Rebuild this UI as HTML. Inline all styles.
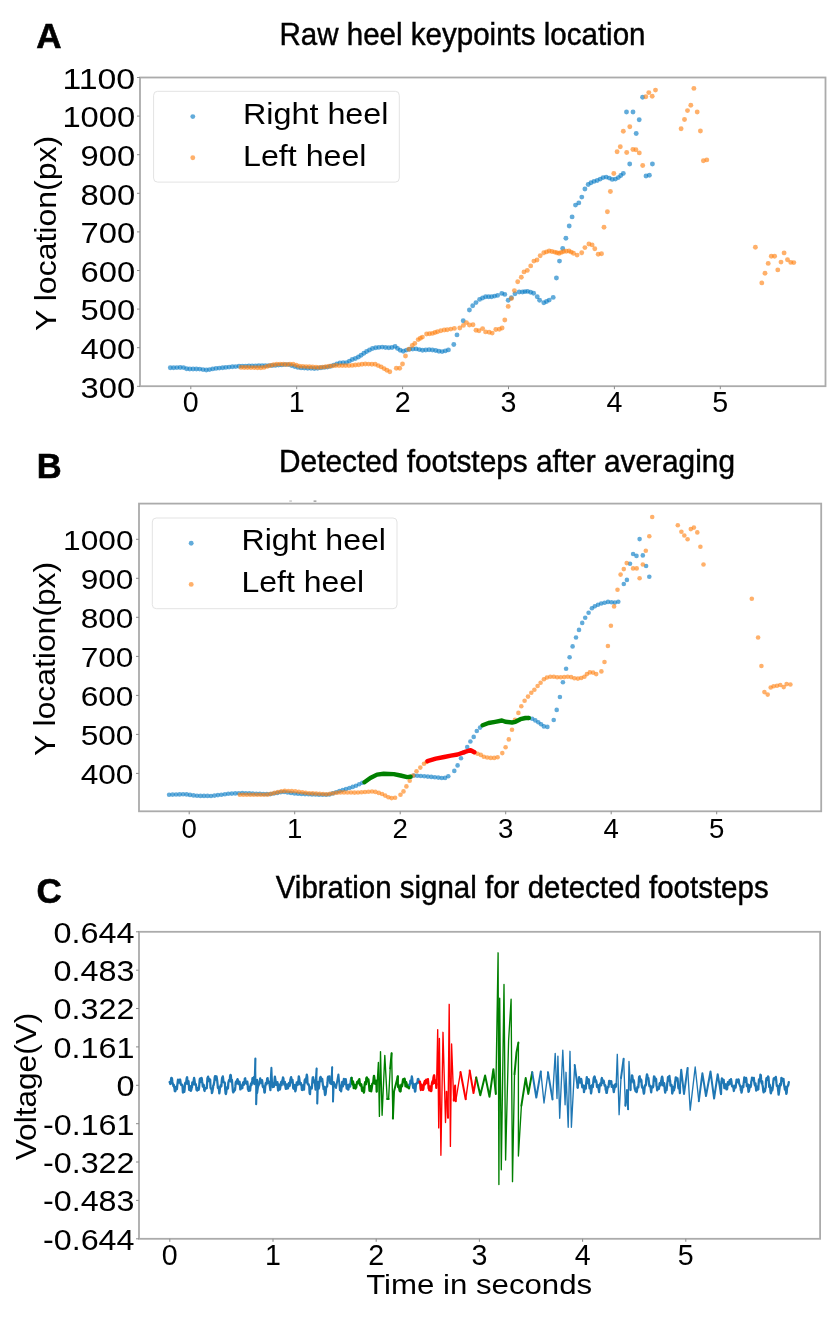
<!DOCTYPE html><html><head><meta charset="utf-8"><style>html,body{margin:0;padding:0;background:#fff;overflow:hidden;}svg{display:block;will-change:transform;}</style></head><body><svg width="833" height="1318" viewBox="0 0 833 1318" font-family="'Liberation Sans', sans-serif"><rect width="833" height="1318" fill="#fff"/><rect x="140.0" y="77.5" width="685.5" height="308.7" fill="none" stroke="#ababab" stroke-width="1.8"/><line x1="137.0" y1="77.5" x2="140.0" y2="77.5" stroke="#8a8a8a" stroke-width="1"/><text x="135.2" y="88.7" font-size="28.6" text-anchor="end" font-weight="normal" textLength="72.8" lengthAdjust="spacingAndGlyphs" >1100</text><line x1="137.0" y1="116.1" x2="140.0" y2="116.1" stroke="#8a8a8a" stroke-width="1"/><text x="135.2" y="127.3" font-size="28.6" text-anchor="end" font-weight="normal" textLength="72.8" lengthAdjust="spacingAndGlyphs" >1000</text><line x1="137.0" y1="154.7" x2="140.0" y2="154.7" stroke="#8a8a8a" stroke-width="1"/><text x="135.2" y="165.9" font-size="28.6" text-anchor="end" font-weight="normal" textLength="54.6" lengthAdjust="spacingAndGlyphs" >900</text><line x1="137.0" y1="193.3" x2="140.0" y2="193.3" stroke="#8a8a8a" stroke-width="1"/><text x="135.2" y="204.5" font-size="28.6" text-anchor="end" font-weight="normal" textLength="54.6" lengthAdjust="spacingAndGlyphs" >800</text><line x1="137.0" y1="231.9" x2="140.0" y2="231.9" stroke="#8a8a8a" stroke-width="1"/><text x="135.2" y="243.1" font-size="28.6" text-anchor="end" font-weight="normal" textLength="54.6" lengthAdjust="spacingAndGlyphs" >700</text><line x1="137.0" y1="270.5" x2="140.0" y2="270.5" stroke="#8a8a8a" stroke-width="1"/><text x="135.2" y="281.7" font-size="28.6" text-anchor="end" font-weight="normal" textLength="54.6" lengthAdjust="spacingAndGlyphs" >600</text><line x1="137.0" y1="309.1" x2="140.0" y2="309.1" stroke="#8a8a8a" stroke-width="1"/><text x="135.2" y="320.3" font-size="28.6" text-anchor="end" font-weight="normal" textLength="54.6" lengthAdjust="spacingAndGlyphs" >500</text><line x1="137.0" y1="347.7" x2="140.0" y2="347.7" stroke="#8a8a8a" stroke-width="1"/><text x="135.2" y="358.9" font-size="28.6" text-anchor="end" font-weight="normal" textLength="54.6" lengthAdjust="spacingAndGlyphs" >400</text><line x1="137.0" y1="386.3" x2="140.0" y2="386.3" stroke="#8a8a8a" stroke-width="1"/><text x="135.2" y="397.5" font-size="28.6" text-anchor="end" font-weight="normal" textLength="54.6" lengthAdjust="spacingAndGlyphs" >300</text><line x1="190.8" y1="386.2" x2="190.8" y2="389.2" stroke="#8a8a8a" stroke-width="1"/><text x="190.8" y="412.2" font-size="28.6" text-anchor="middle" font-weight="normal" >0</text><line x1="296.7" y1="386.2" x2="296.7" y2="389.2" stroke="#8a8a8a" stroke-width="1"/><text x="296.7" y="412.2" font-size="28.6" text-anchor="middle" font-weight="normal" >1</text><line x1="402.6" y1="386.2" x2="402.6" y2="389.2" stroke="#8a8a8a" stroke-width="1"/><text x="402.6" y="412.2" font-size="28.6" text-anchor="middle" font-weight="normal" >2</text><line x1="508.5" y1="386.2" x2="508.5" y2="389.2" stroke="#8a8a8a" stroke-width="1"/><text x="508.5" y="412.2" font-size="28.6" text-anchor="middle" font-weight="normal" >3</text><line x1="614.4" y1="386.2" x2="614.4" y2="389.2" stroke="#8a8a8a" stroke-width="1"/><text x="614.4" y="412.2" font-size="28.6" text-anchor="middle" font-weight="normal" >4</text><line x1="720.3" y1="386.2" x2="720.3" y2="389.2" stroke="#8a8a8a" stroke-width="1"/><text x="720.3" y="412.2" font-size="28.6" text-anchor="middle" font-weight="normal" >5</text><text transform="translate(55.5,233.4) rotate(-90)" font-size="29" text-anchor="middle" textLength="195" lengthAdjust="spacingAndGlyphs">Y location(px)</text><text x="279.5" y="44.8" font-size="31.5" text-anchor="start" font-weight="normal" textLength="366" lengthAdjust="spacingAndGlyphs" stroke="#000" stroke-width="0.45">Raw heel keypoints location</text><text x="36.3" y="47.5" font-size="35" text-anchor="start" font-weight="bold" stroke="#000" stroke-width="0.6">A</text><rect x="153.6" y="91.3" width="245.7" height="90.8" rx="4" fill="#fff" stroke="#e3e3e3" stroke-width="1"/><g fill="#0078c3" fill-opacity="0.62"><circle cx="192.8" cy="116.6" r="2.45"/></g><g fill="#ff7f0e" fill-opacity="0.62"><circle cx="192.8" cy="157.8" r="2.45"/></g><text x="243" y="124.4" font-size="29" text-anchor="start" font-weight="normal" textLength="145.5" lengthAdjust="spacingAndGlyphs" >Right heel</text><text x="243" y="165.9" font-size="29" text-anchor="start" font-weight="normal" textLength="123.5" lengthAdjust="spacingAndGlyphs" >Left heel</text><g fill="#0078c3" fill-opacity="0.62"><circle cx="170.3" cy="367.8" r="2.45"/><circle cx="173.6" cy="367.7" r="2.45"/><circle cx="176.9" cy="367.6" r="2.45"/><circle cx="180.2" cy="367.5" r="2.45"/><circle cx="183.5" cy="367.6" r="2.45"/><circle cx="186.6" cy="368.7" r="2.45"/><circle cx="189.8" cy="369.0" r="2.45"/><circle cx="193.1" cy="369.0" r="2.45"/><circle cx="196.4" cy="369.0" r="2.45"/><circle cx="199.7" cy="369.1" r="2.45"/><circle cx="203.0" cy="369.6" r="2.45"/><circle cx="206.3" cy="370.0" r="2.45"/><circle cx="209.5" cy="369.6" r="2.45"/><circle cx="212.7" cy="368.9" r="2.45"/><circle cx="216.0" cy="368.4" r="2.45"/><circle cx="219.3" cy="368.1" r="2.45"/><circle cx="222.6" cy="367.7" r="2.45"/><circle cx="225.8" cy="367.4" r="2.45"/><circle cx="229.1" cy="367.1" r="2.45"/><circle cx="232.4" cy="366.8" r="2.45"/><circle cx="235.7" cy="366.6" r="2.45"/><circle cx="239.0" cy="366.3" r="2.45"/><circle cx="242.3" cy="366.1" r="2.45"/><circle cx="245.6" cy="366.1" r="2.45"/><circle cx="248.9" cy="366.0" r="2.45"/><circle cx="252.2" cy="365.9" r="2.45"/><circle cx="255.5" cy="365.9" r="2.45"/><circle cx="258.8" cy="365.8" r="2.45"/><circle cx="262.1" cy="365.7" r="2.45"/><circle cx="265.4" cy="365.7" r="2.45"/><circle cx="268.7" cy="365.6" r="2.45"/><circle cx="272.0" cy="365.5" r="2.45"/><circle cx="275.3" cy="365.4" r="2.45"/><circle cx="278.6" cy="365.1" r="2.45"/><circle cx="281.8" cy="364.9" r="2.45"/><circle cx="285.1" cy="364.6" r="2.45"/><circle cx="288.4" cy="364.6" r="2.45"/><circle cx="291.6" cy="365.6" r="2.45"/><circle cx="294.7" cy="366.5" r="2.45"/><circle cx="297.9" cy="367.4" r="2.45"/><circle cx="301.1" cy="367.9" r="2.45"/><circle cx="304.4" cy="368.0" r="2.45"/><circle cx="307.7" cy="368.2" r="2.45"/><circle cx="311.0" cy="368.3" r="2.45"/><circle cx="314.3" cy="368.5" r="2.45"/><circle cx="317.6" cy="368.2" r="2.45"/><circle cx="320.9" cy="367.8" r="2.45"/><circle cx="324.2" cy="367.4" r="2.45"/><circle cx="327.4" cy="367.1" r="2.45"/><circle cx="330.6" cy="366.2" r="2.45"/><circle cx="333.7" cy="365.1" r="2.45"/><circle cx="336.8" cy="364.0" r="2.45"/><circle cx="339.9" cy="362.9" r="2.45"/><circle cx="343.2" cy="362.7" r="2.45"/><circle cx="346.5" cy="362.6" r="2.45"/><circle cx="349.4" cy="361.1" r="2.45"/><circle cx="352.3" cy="359.5" r="2.45"/><circle cx="355.4" cy="358.5" r="2.45"/><circle cx="358.4" cy="357.0" r="2.45"/><circle cx="361.1" cy="355.2" r="2.45"/><circle cx="363.9" cy="353.3" r="2.45"/><circle cx="366.6" cy="351.5" r="2.45"/><circle cx="369.5" cy="350.0" r="2.45"/><circle cx="372.5" cy="348.5" r="2.45"/><circle cx="375.7" cy="347.8" r="2.45"/><circle cx="378.9" cy="347.4" r="2.45"/><circle cx="382.2" cy="347.1" r="2.45"/><circle cx="385.5" cy="347.5" r="2.45"/><circle cx="388.8" cy="347.8" r="2.45"/><circle cx="392.0" cy="347.5" r="2.45"/><circle cx="395.1" cy="346.4" r="2.45"/><circle cx="397.5" cy="348.4" r="2.45"/><circle cx="400.2" cy="350.2" r="2.45"/><circle cx="403.3" cy="351.2" r="2.45"/><circle cx="406.4" cy="350.1" r="2.45"/><circle cx="409.5" cy="349.2" r="2.45"/><circle cx="412.8" cy="349.0" r="2.45"/><circle cx="416.1" cy="348.9" r="2.45"/><circle cx="419.3" cy="349.6" r="2.45"/><circle cx="422.5" cy="350.2" r="2.45"/><circle cx="425.8" cy="350.0" r="2.45"/><circle cx="429.1" cy="349.8" r="2.45"/><circle cx="432.4" cy="350.0" r="2.45"/><circle cx="435.7" cy="350.5" r="2.45"/><circle cx="438.9" cy="351.3" r="2.45"/><circle cx="442.1" cy="351.6" r="2.45"/><circle cx="445.3" cy="350.9" r="2.45"/><circle cx="448.4" cy="349.9" r="2.45"/><circle cx="453.8" cy="344.5" r="2.45"/><circle cx="457.0" cy="334.9" r="2.45"/><circle cx="463.2" cy="320.8" r="2.45"/><circle cx="469.4" cy="310.0" r="2.45"/><circle cx="472.7" cy="305.8" r="2.45"/><circle cx="476.0" cy="302.6" r="2.45"/><circle cx="479.6" cy="299.4" r="2.45"/><circle cx="482.6" cy="298.0" r="2.45"/><circle cx="485.6" cy="296.8" r="2.45"/><circle cx="488.6" cy="296.8" r="2.45"/><circle cx="491.6" cy="296.8" r="2.45"/><circle cx="494.6" cy="296.1" r="2.45"/><circle cx="497.6" cy="295.4" r="2.45"/><circle cx="501.8" cy="293.4" r="2.45"/><circle cx="504.8" cy="294.4" r="2.45"/><circle cx="508.2" cy="300.2" r="2.45"/><circle cx="511.4" cy="297.8" r="2.45"/><circle cx="515.0" cy="293.8" r="2.45"/><circle cx="519.2" cy="292.0" r="2.45"/><circle cx="522.5" cy="292.0" r="2.45"/><circle cx="525.0" cy="291.6" r="2.45"/><circle cx="527.6" cy="291.4" r="2.45"/><circle cx="530.6" cy="292.3" r="2.45"/><circle cx="533.6" cy="293.2" r="2.45"/><circle cx="537.2" cy="296.8" r="2.45"/><circle cx="539.6" cy="300.2" r="2.45"/><circle cx="543.8" cy="302.8" r="2.45"/><circle cx="546.5" cy="301.5" r="2.45"/><circle cx="549.2" cy="300.1" r="2.45"/><circle cx="553.2" cy="297.4" r="2.45"/><circle cx="556.4" cy="278.0" r="2.45"/><circle cx="559.5" cy="261.1" r="2.45"/><circle cx="562.7" cy="248.5" r="2.45"/><circle cx="565.9" cy="238.2" r="2.45"/><circle cx="569.2" cy="226.0" r="2.45"/><circle cx="572.1" cy="216.9" r="2.45"/><circle cx="575.5" cy="205.1" r="2.45"/><circle cx="578.8" cy="202.9" r="2.45"/><circle cx="581.8" cy="197.1" r="2.45"/><circle cx="584.9" cy="189.0" r="2.45"/><circle cx="588.2" cy="184.5" r="2.45"/><circle cx="591.0" cy="182.8" r="2.45"/><circle cx="594.0" cy="181.4" r="2.45"/><circle cx="597.2" cy="180.5" r="2.45"/><circle cx="600.2" cy="179.1" r="2.45"/><circle cx="603.1" cy="177.6" r="2.45"/><circle cx="606.2" cy="177.1" r="2.45"/><circle cx="609.3" cy="178.1" r="2.45"/><circle cx="612.2" cy="179.4" r="2.45"/><circle cx="615.4" cy="179.1" r="2.45"/><circle cx="618.3" cy="177.6" r="2.45"/><circle cx="620.8" cy="175.5" r="2.45"/><circle cx="623.3" cy="173.4" r="2.45"/><circle cx="629.7" cy="164.0" r="2.45"/><circle cx="646.0" cy="176.0" r="2.45"/><circle cx="649.4" cy="175.2" r="2.45"/><circle cx="652.4" cy="164.0" r="2.45"/><circle cx="642.6" cy="97.2" r="2.45"/><circle cx="626.5" cy="112.0" r="2.45"/><circle cx="633.0" cy="112.0" r="2.45"/><circle cx="639.2" cy="119.7" r="2.45"/><circle cx="636.2" cy="133.5" r="2.45"/></g><g fill="#ff7f0e" fill-opacity="0.62"><circle cx="241.0" cy="367.4" r="2.45"/><circle cx="244.3" cy="367.5" r="2.45"/><circle cx="247.6" cy="367.5" r="2.45"/><circle cx="250.9" cy="367.6" r="2.45"/><circle cx="254.2" cy="367.6" r="2.45"/><circle cx="257.5" cy="367.7" r="2.45"/><circle cx="260.8" cy="367.8" r="2.45"/><circle cx="264.0" cy="367.4" r="2.45"/><circle cx="267.2" cy="366.4" r="2.45"/><circle cx="270.4" cy="365.5" r="2.45"/><circle cx="273.6" cy="364.8" r="2.45"/><circle cx="276.8" cy="364.3" r="2.45"/><circle cx="280.1" cy="364.1" r="2.45"/><circle cx="283.4" cy="364.3" r="2.45"/><circle cx="286.7" cy="364.5" r="2.45"/><circle cx="290.0" cy="364.3" r="2.45"/><circle cx="293.2" cy="364.3" r="2.45"/><circle cx="296.4" cy="365.3" r="2.45"/><circle cx="299.5" cy="366.2" r="2.45"/><circle cx="302.8" cy="366.4" r="2.45"/><circle cx="306.1" cy="366.6" r="2.45"/><circle cx="309.4" cy="366.8" r="2.45"/><circle cx="312.7" cy="367.0" r="2.45"/><circle cx="316.0" cy="367.2" r="2.45"/><circle cx="319.3" cy="367.4" r="2.45"/><circle cx="322.6" cy="367.1" r="2.45"/><circle cx="325.8" cy="366.7" r="2.45"/><circle cx="329.1" cy="366.3" r="2.45"/><circle cx="332.4" cy="365.9" r="2.45"/><circle cx="335.7" cy="365.5" r="2.45"/><circle cx="339.0" cy="365.6" r="2.45"/><circle cx="342.3" cy="365.6" r="2.45"/><circle cx="345.6" cy="365.6" r="2.45"/><circle cx="348.9" cy="365.6" r="2.45"/><circle cx="352.2" cy="365.4" r="2.45"/><circle cx="355.4" cy="365.0" r="2.45"/><circle cx="358.7" cy="364.7" r="2.45"/><circle cx="362.0" cy="364.3" r="2.45"/><circle cx="365.3" cy="364.0" r="2.45"/><circle cx="368.6" cy="364.1" r="2.45"/><circle cx="371.9" cy="364.2" r="2.45"/><circle cx="375.2" cy="364.3" r="2.45"/><circle cx="378.2" cy="365.6" r="2.45"/><circle cx="381.2" cy="366.9" r="2.45"/><circle cx="384.1" cy="368.6" r="2.45"/><circle cx="386.9" cy="370.3" r="2.45"/><circle cx="389.8" cy="371.8" r="2.45"/><circle cx="396.3" cy="368.2" r="2.45"/><circle cx="399.7" cy="368.2" r="2.45"/><circle cx="402.5" cy="364.0" r="2.45"/><circle cx="405.5" cy="356.0" r="2.45"/><circle cx="408.9" cy="349.3" r="2.45"/><circle cx="412.3" cy="345.5" r="2.45"/><circle cx="414.8" cy="343.4" r="2.45"/><circle cx="418.2" cy="339.6" r="2.45"/><circle cx="420.3" cy="338.3" r="2.45"/><circle cx="422.4" cy="337.1" r="2.45"/><circle cx="426.6" cy="334.0" r="2.45"/><circle cx="429.5" cy="333.7" r="2.45"/><circle cx="432.4" cy="333.4" r="2.45"/><circle cx="435.0" cy="332.5" r="2.45"/><circle cx="437.5" cy="331.7" r="2.45"/><circle cx="440.8" cy="330.8" r="2.45"/><circle cx="444.2" cy="330.0" r="2.45"/><circle cx="447.2" cy="329.8" r="2.45"/><circle cx="450.8" cy="329.1" r="2.45"/><circle cx="454.4" cy="328.4" r="2.45"/><circle cx="459.8" cy="328.0" r="2.45"/><circle cx="463.4" cy="325.4" r="2.45"/><circle cx="466.4" cy="322.6" r="2.45"/><circle cx="469.4" cy="325.0" r="2.45"/><circle cx="473.0" cy="324.7" r="2.45"/><circle cx="476.0" cy="330.2" r="2.45"/><circle cx="479.0" cy="330.7" r="2.45"/><circle cx="482.6" cy="328.6" r="2.45"/><circle cx="485.6" cy="331.9" r="2.45"/><circle cx="489.2" cy="332.2" r="2.45"/><circle cx="492.2" cy="333.1" r="2.45"/><circle cx="495.8" cy="329.5" r="2.45"/><circle cx="499.4" cy="329.2" r="2.45"/><circle cx="502.1" cy="328.0" r="2.45"/><circle cx="504.8" cy="320.0" r="2.45"/><circle cx="508.2" cy="306.4" r="2.45"/><circle cx="511.4" cy="298.6" r="2.45"/><circle cx="514.4" cy="290.6" r="2.45"/><circle cx="517.7" cy="281.8" r="2.45"/><circle cx="521.3" cy="277.3" r="2.45"/><circle cx="524.0" cy="271.9" r="2.45"/><circle cx="527.3" cy="270.4" r="2.45"/><circle cx="530.7" cy="265.9" r="2.45"/><circle cx="533.9" cy="261.1" r="2.45"/><circle cx="537.0" cy="260.0" r="2.45"/><circle cx="540.2" cy="255.7" r="2.45"/><circle cx="543.8" cy="252.8" r="2.45"/><circle cx="546.5" cy="251.9" r="2.45"/><circle cx="549.2" cy="251.0" r="2.45"/><circle cx="551.9" cy="251.5" r="2.45"/><circle cx="554.6" cy="252.1" r="2.45"/><circle cx="556.8" cy="252.7" r="2.45"/><circle cx="559.1" cy="253.3" r="2.45"/><circle cx="561.3" cy="252.4" r="2.45"/><circle cx="563.6" cy="251.5" r="2.45"/><circle cx="566.3" cy="251.2" r="2.45"/><circle cx="569.0" cy="251.0" r="2.45"/><circle cx="571.2" cy="252.1" r="2.45"/><circle cx="573.5" cy="253.3" r="2.45"/><circle cx="577.1" cy="255.1" r="2.45"/><circle cx="581.7" cy="252.8" r="2.45"/><circle cx="584.9" cy="247.6" r="2.45"/><circle cx="588.9" cy="244.0" r="2.45"/><circle cx="592.1" cy="244.9" r="2.45"/><circle cx="594.8" cy="248.8" r="2.45"/><circle cx="598.2" cy="254.2" r="2.45"/><circle cx="601.5" cy="253.7" r="2.45"/><circle cx="604.0" cy="227.3" r="2.45"/><circle cx="607.4" cy="211.7" r="2.45"/><circle cx="610.4" cy="191.5" r="2.45"/><circle cx="613.8" cy="173.5" r="2.45"/><circle cx="617.1" cy="151.7" r="2.45"/><circle cx="626.7" cy="152.5" r="2.45"/><circle cx="639.3" cy="152.9" r="2.45"/><circle cx="642.7" cy="165.5" r="2.45"/><circle cx="645.8" cy="96.8" r="2.45"/><circle cx="648.8" cy="92.6" r="2.45"/><circle cx="652.2" cy="96.3" r="2.45"/><circle cx="655.5" cy="90.1" r="2.45"/><circle cx="623.3" cy="131.3" r="2.45"/><circle cx="629.8" cy="126.8" r="2.45"/><circle cx="620.3" cy="146.8" r="2.45"/><circle cx="632.9" cy="149.5" r="2.45"/><circle cx="635.9" cy="149.8" r="2.45"/><circle cx="693.9" cy="88.4" r="2.45"/><circle cx="690.8" cy="105.3" r="2.45"/><circle cx="687.5" cy="110.6" r="2.45"/><circle cx="697.2" cy="112.0" r="2.45"/><circle cx="684.5" cy="119.5" r="2.45"/><circle cx="681.1" cy="128.8" r="2.45"/><circle cx="700.4" cy="131.0" r="2.45"/><circle cx="703.4" cy="160.7" r="2.45"/><circle cx="706.8" cy="159.9" r="2.45"/><circle cx="755.4" cy="247.2" r="2.45"/><circle cx="771.3" cy="256.2" r="2.45"/><circle cx="774.6" cy="256.2" r="2.45"/><circle cx="784.1" cy="252.9" r="2.45"/><circle cx="768.2" cy="263.4" r="2.45"/><circle cx="781.0" cy="262.1" r="2.45"/><circle cx="787.5" cy="259.8" r="2.45"/><circle cx="790.8" cy="262.4" r="2.45"/><circle cx="793.8" cy="262.6" r="2.45"/><circle cx="765.0" cy="273.3" r="2.45"/><circle cx="777.8" cy="269.9" r="2.45"/><circle cx="761.8" cy="282.9" r="2.45"/></g><rect x="139.0" y="503.6" width="682.2" height="307.69999999999993" fill="none" stroke="#ababab" stroke-width="1.8"/><line x1="136.0" y1="539.3" x2="139.0" y2="539.3" stroke="#8a8a8a" stroke-width="1"/><text x="133.5" y="549.6" font-size="27.2" text-anchor="end" font-weight="normal" textLength="70.4" lengthAdjust="spacingAndGlyphs" >1000</text><line x1="136.0" y1="578.3" x2="139.0" y2="578.3" stroke="#8a8a8a" stroke-width="1"/><text x="133.5" y="588.6" font-size="27.2" text-anchor="end" font-weight="normal" textLength="52.8" lengthAdjust="spacingAndGlyphs" >900</text><line x1="136.0" y1="617.3" x2="139.0" y2="617.3" stroke="#8a8a8a" stroke-width="1"/><text x="133.5" y="627.6" font-size="27.2" text-anchor="end" font-weight="normal" textLength="52.8" lengthAdjust="spacingAndGlyphs" >800</text><line x1="136.0" y1="656.4" x2="139.0" y2="656.4" stroke="#8a8a8a" stroke-width="1"/><text x="133.5" y="666.7" font-size="27.2" text-anchor="end" font-weight="normal" textLength="52.8" lengthAdjust="spacingAndGlyphs" >700</text><line x1="136.0" y1="695.4" x2="139.0" y2="695.4" stroke="#8a8a8a" stroke-width="1"/><text x="133.5" y="705.7" font-size="27.2" text-anchor="end" font-weight="normal" textLength="52.8" lengthAdjust="spacingAndGlyphs" >600</text><line x1="136.0" y1="734.4" x2="139.0" y2="734.4" stroke="#8a8a8a" stroke-width="1"/><text x="133.5" y="744.7" font-size="27.2" text-anchor="end" font-weight="normal" textLength="52.8" lengthAdjust="spacingAndGlyphs" >500</text><line x1="136.0" y1="773.4" x2="139.0" y2="773.4" stroke="#8a8a8a" stroke-width="1"/><text x="133.5" y="783.7" font-size="27.2" text-anchor="end" font-weight="normal" textLength="52.8" lengthAdjust="spacingAndGlyphs" >400</text><line x1="189.2" y1="811.3" x2="189.2" y2="814.3" stroke="#8a8a8a" stroke-width="1"/><text x="189.2" y="837.7" font-size="27.6" text-anchor="middle" font-weight="normal" >0</text><line x1="294.7" y1="811.3" x2="294.7" y2="814.3" stroke="#8a8a8a" stroke-width="1"/><text x="294.7" y="837.7" font-size="27.6" text-anchor="middle" font-weight="normal" >1</text><line x1="400.2" y1="811.3" x2="400.2" y2="814.3" stroke="#8a8a8a" stroke-width="1"/><text x="400.2" y="837.7" font-size="27.6" text-anchor="middle" font-weight="normal" >2</text><line x1="505.7" y1="811.3" x2="505.7" y2="814.3" stroke="#8a8a8a" stroke-width="1"/><text x="505.7" y="837.7" font-size="27.6" text-anchor="middle" font-weight="normal" >3</text><line x1="611.2" y1="811.3" x2="611.2" y2="814.3" stroke="#8a8a8a" stroke-width="1"/><text x="611.2" y="837.7" font-size="27.6" text-anchor="middle" font-weight="normal" >4</text><line x1="716.7" y1="811.3" x2="716.7" y2="814.3" stroke="#8a8a8a" stroke-width="1"/><text x="716.7" y="837.7" font-size="27.6" text-anchor="middle" font-weight="normal" >5</text><text transform="translate(54.5,658.9) rotate(-90)" font-size="29" text-anchor="middle" textLength="194" lengthAdjust="spacingAndGlyphs">Y location(px)</text><text x="279" y="471.5" font-size="30.5" text-anchor="start" font-weight="normal" textLength="456" lengthAdjust="spacingAndGlyphs" stroke="#000" stroke-width="0.45">Detected footsteps after averaging</text><text x="36.8" y="478.3" font-size="34.5" text-anchor="start" font-weight="bold" stroke="#000" stroke-width="0.6">B</text><rect x="152.3" y="518" width="244.7" height="90.7" rx="4" fill="#fff" stroke="#e3e3e3" stroke-width="1"/><g fill="#0078c3" fill-opacity="0.62"><circle cx="191.2" cy="543.2" r="2.45"/></g><g fill="#ff7f0e" fill-opacity="0.62"><circle cx="191.2" cy="584.4" r="2.45"/></g><text x="241.5" y="550.4" font-size="29" text-anchor="start" font-weight="normal" textLength="144.5" lengthAdjust="spacingAndGlyphs" >Right heel</text><text x="241.5" y="591.9" font-size="29" text-anchor="start" font-weight="normal" textLength="122.5" lengthAdjust="spacingAndGlyphs" >Left heel</text><g fill="#0078c3" fill-opacity="0.62"><circle cx="169.1" cy="794.7" r="2.3"/><circle cx="172.6" cy="794.6" r="2.3"/><circle cx="176.1" cy="794.5" r="2.3"/><circle cx="179.6" cy="794.4" r="2.3"/><circle cx="183.1" cy="794.3" r="2.3"/><circle cx="186.6" cy="794.4" r="2.3"/><circle cx="190.0" cy="794.9" r="2.3"/><circle cx="193.5" cy="795.4" r="2.3"/><circle cx="197.0" cy="795.8" r="2.3"/><circle cx="200.5" cy="795.9" r="2.3"/><circle cx="204.0" cy="795.9" r="2.3"/><circle cx="207.5" cy="795.9" r="2.3"/><circle cx="211.0" cy="796.0" r="2.3"/><circle cx="214.5" cy="795.6" r="2.3"/><circle cx="217.9" cy="795.1" r="2.3"/><circle cx="221.4" cy="794.7" r="2.3"/><circle cx="224.9" cy="794.3" r="2.3"/><circle cx="228.3" cy="793.8" r="2.3"/><circle cx="231.8" cy="793.6" r="2.3"/><circle cx="235.3" cy="793.4" r="2.3"/><circle cx="238.8" cy="793.3" r="2.3"/><circle cx="242.3" cy="793.1" r="2.3"/><circle cx="245.8" cy="793.2" r="2.3"/><circle cx="249.3" cy="793.4" r="2.3"/><circle cx="252.8" cy="793.5" r="2.3"/><circle cx="256.3" cy="793.7" r="2.3"/><circle cx="259.8" cy="793.8" r="2.3"/><circle cx="263.3" cy="794.0" r="2.3"/><circle cx="266.8" cy="794.1" r="2.3"/><circle cx="270.3" cy="794.1" r="2.3"/><circle cx="273.7" cy="793.5" r="2.3"/><circle cx="277.2" cy="792.9" r="2.3"/><circle cx="280.6" cy="792.3" r="2.3"/><circle cx="284.1" cy="792.0" r="2.3"/><circle cx="287.6" cy="792.5" r="2.3"/><circle cx="291.0" cy="793.0" r="2.3"/><circle cx="294.5" cy="793.5" r="2.3"/><circle cx="298.0" cy="793.8" r="2.3"/><circle cx="301.5" cy="794.0" r="2.3"/><circle cx="305.0" cy="794.1" r="2.3"/><circle cx="308.5" cy="794.3" r="2.3"/><circle cx="312.0" cy="794.4" r="2.3"/><circle cx="315.5" cy="794.5" r="2.3"/><circle cx="319.0" cy="794.7" r="2.3"/><circle cx="322.5" cy="794.7" r="2.3"/><circle cx="326.0" cy="794.7" r="2.3"/><circle cx="329.4" cy="794.5" r="2.3"/><circle cx="332.7" cy="793.4" r="2.3"/><circle cx="336.1" cy="792.3" r="2.3"/><circle cx="339.4" cy="791.1" r="2.3"/><circle cx="342.7" cy="790.0" r="2.3"/><circle cx="346.0" cy="789.0" r="2.3"/><circle cx="349.4" cy="788.0" r="2.3"/><circle cx="352.7" cy="786.9" r="2.3"/><circle cx="356.0" cy="785.8" r="2.3"/><circle cx="359.2" cy="784.3" r="2.3"/><circle cx="362.3" cy="782.8" r="2.3"/><circle cx="410.6" cy="776.8" r="2.3"/><circle cx="413.9" cy="775.6" r="2.3"/><circle cx="417.3" cy="775.8" r="2.3"/><circle cx="420.8" cy="776.0" r="2.3"/><circle cx="424.3" cy="776.3" r="2.3"/><circle cx="427.8" cy="776.6" r="2.3"/><circle cx="431.3" cy="776.9" r="2.3"/><circle cx="434.8" cy="777.2" r="2.3"/><circle cx="438.3" cy="777.6" r="2.3"/><circle cx="441.7" cy="778.0" r="2.3"/><circle cx="445.1" cy="777.9" r="2.3"/><circle cx="448.3" cy="776.3" r="2.3"/><circle cx="454.3" cy="770.9" r="2.3"/><circle cx="457.6" cy="765.4" r="2.3"/><circle cx="461.0" cy="758.3" r="2.3"/><circle cx="463.8" cy="752.6" r="2.3"/><circle cx="467.2" cy="747.1" r="2.3"/><circle cx="470.4" cy="741.5" r="2.3"/><circle cx="473.7" cy="736.9" r="2.3"/><circle cx="476.8" cy="731.0" r="2.3"/><circle cx="480.1" cy="727.6" r="2.3"/><circle cx="528.8" cy="718.0" r="2.3"/><circle cx="532.2" cy="718.8" r="2.3"/><circle cx="535.3" cy="720.4" r="2.3"/><circle cx="538.3" cy="722.2" r="2.3"/><circle cx="541.1" cy="724.3" r="2.3"/><circle cx="543.9" cy="726.4" r="2.3"/><circle cx="547.4" cy="726.9" r="2.3"/><circle cx="553.7" cy="720.0" r="2.3"/><circle cx="556.7" cy="709.9" r="2.3"/><circle cx="559.9" cy="697.0" r="2.3"/><circle cx="562.9" cy="682.2" r="2.3"/><circle cx="566.1" cy="668.7" r="2.3"/><circle cx="569.6" cy="657.3" r="2.3"/><circle cx="572.6" cy="646.4" r="2.3"/><circle cx="576.0" cy="637.5" r="2.3"/><circle cx="579.0" cy="629.9" r="2.3"/><circle cx="582.2" cy="622.9" r="2.3"/><circle cx="585.2" cy="617.8" r="2.3"/><circle cx="588.6" cy="612.8" r="2.3"/><circle cx="591.9" cy="608.2" r="2.3"/><circle cx="594.8" cy="606.3" r="2.3"/><circle cx="598.0" cy="604.8" r="2.3"/><circle cx="601.2" cy="603.5" r="2.3"/><circle cx="604.6" cy="602.7" r="2.3"/><circle cx="608.0" cy="601.9" r="2.3"/><circle cx="611.5" cy="602.3" r="2.3"/><circle cx="614.9" cy="602.5" r="2.3"/><circle cx="618.3" cy="601.7" r="2.3"/><circle cx="623.8" cy="584.0" r="2.3"/><circle cx="626.9" cy="579.9" r="2.3"/><circle cx="630.0" cy="563.8" r="2.3"/><circle cx="633.1" cy="554.0" r="2.3"/><circle cx="636.5" cy="555.9" r="2.3"/><circle cx="639.6" cy="539.1" r="2.3"/><circle cx="642.8" cy="555.4" r="2.3"/><circle cx="646.1" cy="566.0" r="2.3"/><circle cx="649.3" cy="576.8" r="2.3"/></g><g fill="#ff7f0e" fill-opacity="0.62"><circle cx="239.8" cy="794.7" r="2.3"/><circle cx="243.3" cy="794.7" r="2.3"/><circle cx="246.8" cy="794.7" r="2.3"/><circle cx="250.3" cy="794.7" r="2.3"/><circle cx="253.8" cy="794.7" r="2.3"/><circle cx="257.3" cy="794.7" r="2.3"/><circle cx="260.8" cy="794.7" r="2.3"/><circle cx="264.3" cy="794.7" r="2.3"/><circle cx="267.8" cy="794.6" r="2.3"/><circle cx="271.2" cy="793.7" r="2.3"/><circle cx="274.6" cy="792.9" r="2.3"/><circle cx="278.0" cy="792.1" r="2.3"/><circle cx="281.4" cy="791.2" r="2.3"/><circle cx="284.8" cy="790.9" r="2.3"/><circle cx="288.3" cy="791.0" r="2.3"/><circle cx="291.8" cy="791.1" r="2.3"/><circle cx="295.3" cy="791.3" r="2.3"/><circle cx="298.8" cy="791.8" r="2.3"/><circle cx="302.3" cy="792.3" r="2.3"/><circle cx="305.7" cy="792.7" r="2.3"/><circle cx="309.2" cy="793.2" r="2.3"/><circle cx="312.7" cy="793.4" r="2.3"/><circle cx="316.2" cy="793.6" r="2.3"/><circle cx="319.7" cy="793.8" r="2.3"/><circle cx="323.2" cy="794.0" r="2.3"/><circle cx="326.7" cy="794.2" r="2.3"/><circle cx="330.1" cy="793.7" r="2.3"/><circle cx="333.6" cy="793.3" r="2.3"/><circle cx="337.1" cy="792.8" r="2.3"/><circle cx="340.5" cy="792.4" r="2.3"/><circle cx="344.0" cy="792.4" r="2.3"/><circle cx="347.5" cy="792.5" r="2.3"/><circle cx="351.0" cy="792.5" r="2.3"/><circle cx="354.5" cy="792.6" r="2.3"/><circle cx="358.0" cy="792.5" r="2.3"/><circle cx="361.5" cy="792.3" r="2.3"/><circle cx="365.0" cy="792.0" r="2.3"/><circle cx="368.5" cy="791.8" r="2.3"/><circle cx="372.0" cy="791.5" r="2.3"/><circle cx="375.4" cy="791.9" r="2.3"/><circle cx="378.8" cy="792.9" r="2.3"/><circle cx="382.1" cy="794.0" r="2.3"/><circle cx="385.2" cy="795.6" r="2.3"/><circle cx="388.4" cy="797.2" r="2.3"/><circle cx="391.6" cy="798.1" r="2.3"/><circle cx="395.1" cy="797.8" r="2.3"/><circle cx="400.5" cy="794.8" r="2.3"/><circle cx="403.5" cy="791.4" r="2.3"/><circle cx="406.4" cy="786.4" r="2.3"/><circle cx="409.7" cy="780.8" r="2.3"/><circle cx="413.1" cy="775.5" r="2.3"/><circle cx="416.5" cy="771.3" r="2.3"/><circle cx="420.3" cy="767.6" r="2.3"/><circle cx="424.0" cy="763.7" r="2.3"/><circle cx="426.6" cy="762.0" r="2.3"/><circle cx="474.4" cy="752.3" r="2.3"/><circle cx="477.6" cy="753.7" r="2.3"/><circle cx="480.8" cy="754.9" r="2.3"/><circle cx="483.8" cy="756.8" r="2.3"/><circle cx="487.2" cy="757.5" r="2.3"/><circle cx="490.7" cy="757.9" r="2.3"/><circle cx="494.2" cy="757.9" r="2.3"/><circle cx="497.6" cy="757.3" r="2.3"/><circle cx="502.3" cy="753.1" r="2.3"/><circle cx="505.6" cy="747.3" r="2.3"/><circle cx="508.8" cy="739.4" r="2.3"/><circle cx="512.0" cy="729.7" r="2.3"/><circle cx="515.0" cy="719.7" r="2.3"/><circle cx="518.4" cy="712.9" r="2.3"/><circle cx="521.3" cy="706.2" r="2.3"/><circle cx="524.6" cy="700.8" r="2.3"/><circle cx="528.0" cy="696.6" r="2.3"/><circle cx="531.3" cy="692.8" r="2.3"/><circle cx="534.4" cy="689.7" r="2.3"/><circle cx="537.6" cy="686.0" r="2.3"/><circle cx="540.6" cy="682.7" r="2.3"/><circle cx="543.9" cy="679.3" r="2.3"/><circle cx="546.9" cy="677.5" r="2.3"/><circle cx="550.3" cy="676.8" r="2.3"/><circle cx="553.8" cy="676.7" r="2.3"/><circle cx="557.2" cy="677.3" r="2.3"/><circle cx="560.7" cy="677.2" r="2.3"/><circle cx="564.2" cy="677.1" r="2.3"/><circle cx="567.7" cy="676.7" r="2.3"/><circle cx="571.1" cy="677.1" r="2.3"/><circle cx="574.4" cy="678.2" r="2.3"/><circle cx="577.9" cy="678.6" r="2.3"/><circle cx="581.2" cy="678.0" r="2.3"/><circle cx="584.4" cy="676.7" r="2.3"/><circle cx="586.9" cy="674.1" r="2.3"/><circle cx="589.8" cy="672.4" r="2.3"/><circle cx="593.1" cy="672.6" r="2.3"/><circle cx="596.2" cy="674.1" r="2.3"/><circle cx="601.4" cy="671.4" r="2.3"/><circle cx="604.5" cy="662.0" r="2.3"/><circle cx="607.9" cy="646.0" r="2.3"/><circle cx="610.9" cy="625.7" r="2.3"/><circle cx="614.1" cy="606.4" r="2.3"/><circle cx="617.5" cy="589.7" r="2.3"/><circle cx="620.6" cy="574.6" r="2.3"/><circle cx="623.8" cy="569.1" r="2.3"/><circle cx="626.7" cy="563.1" r="2.3"/><circle cx="633.1" cy="568.4" r="2.3"/><circle cx="636.7" cy="568.4" r="2.3"/><circle cx="639.6" cy="578.2" r="2.3"/><circle cx="642.8" cy="564.5" r="2.3"/><circle cx="645.8" cy="550.8" r="2.3"/><circle cx="649.3" cy="536.3" r="2.3"/><circle cx="652.2" cy="517.0" r="2.3"/><circle cx="677.8" cy="525.2" r="2.3"/><circle cx="681.4" cy="531.7" r="2.3"/><circle cx="684.3" cy="535.5" r="2.3"/><circle cx="687.6" cy="539.3" r="2.3"/><circle cx="690.8" cy="529.1" r="2.3"/><circle cx="693.9" cy="527.6" r="2.3"/><circle cx="697.3" cy="532.4" r="2.3"/><circle cx="700.4" cy="546.8" r="2.3"/><circle cx="703.5" cy="564.5" r="2.3"/><circle cx="751.8" cy="598.7" r="2.3"/><circle cx="758.1" cy="637.5" r="2.3"/><circle cx="761.4" cy="666.0" r="2.3"/><circle cx="764.4" cy="692.1" r="2.3"/><circle cx="767.7" cy="694.6" r="2.3"/><circle cx="770.7" cy="687.5" r="2.3"/><circle cx="773.6" cy="686.2" r="2.3"/><circle cx="777.0" cy="685.8" r="2.3"/><circle cx="780.3" cy="685.0" r="2.3"/><circle cx="783.7" cy="687.1" r="2.3"/><circle cx="786.6" cy="684.1" r="2.3"/><circle cx="790.4" cy="684.5" r="2.3"/></g><polyline points="364.4,782.2 370.3,778.0 377.0,774.6 383.7,773.8 393.8,774.1 400.5,775.5 407.2,777.1 410.6,776.8" fill="none" stroke="#008000" stroke-width="4.4" stroke-linecap="round" stroke-linejoin="round"/><polyline points="482.6,725.2 488.5,723.0 495.2,721.8 501.9,720.5 505.3,721.8 512.0,722.5 515.4,721.8 520.4,719.2 525.5,718.0 528.8,718.0" fill="none" stroke="#008000" stroke-width="4.4" stroke-linecap="round" stroke-linejoin="round"/><polyline points="427.4,761.2 435.8,758.7 444.2,757.0 450.9,755.6 457.6,754.5 465.8,751.6 470.6,750.2 474.4,752.3" fill="none" stroke="#ff0000" stroke-width="4.4" stroke-linecap="round" stroke-linejoin="round"/><rect x="289.3" y="500.4" width="2.6" height="1.3" fill="#9a9a9a" fill-opacity="0.6"/><rect x="313.6" y="500.4" width="2.8" height="1.5" fill="#7a7a7a" fill-opacity="0.7"/><rect x="139.0" y="931.8" width="681.1" height="307.0" fill="none" stroke="#ababab" stroke-width="1.8"/><line x1="136.0" y1="931.8" x2="139.0" y2="931.8" stroke="#8a8a8a" stroke-width="1"/><text x="134.5" y="942.7" font-size="28.6" text-anchor="end" font-weight="normal" textLength="81.0" lengthAdjust="spacingAndGlyphs" >0.644</text><line x1="136.0" y1="970.2" x2="139.0" y2="970.2" stroke="#8a8a8a" stroke-width="1"/><text x="134.5" y="981.1" font-size="28.6" text-anchor="end" font-weight="normal" textLength="81.0" lengthAdjust="spacingAndGlyphs" >0.483</text><line x1="136.0" y1="1008.5" x2="139.0" y2="1008.5" stroke="#8a8a8a" stroke-width="1"/><text x="134.5" y="1019.4" font-size="28.6" text-anchor="end" font-weight="normal" textLength="81.0" lengthAdjust="spacingAndGlyphs" >0.322</text><line x1="136.0" y1="1046.9" x2="139.0" y2="1046.9" stroke="#8a8a8a" stroke-width="1"/><text x="134.5" y="1057.8" font-size="28.6" text-anchor="end" font-weight="normal" textLength="81.0" lengthAdjust="spacingAndGlyphs" >0.161</text><line x1="136.0" y1="1085.3" x2="139.0" y2="1085.3" stroke="#8a8a8a" stroke-width="1"/><text x="134.5" y="1096.2" font-size="28.6" text-anchor="end" font-weight="normal" textLength="18.0" lengthAdjust="spacingAndGlyphs" >0</text><line x1="136.0" y1="1123.7" x2="139.0" y2="1123.7" stroke="#8a8a8a" stroke-width="1"/><text x="134.5" y="1134.6" font-size="28.6" text-anchor="end" font-weight="normal" textLength="91.5" lengthAdjust="spacingAndGlyphs" >-0.161</text><line x1="136.0" y1="1162.0" x2="139.0" y2="1162.0" stroke="#8a8a8a" stroke-width="1"/><text x="134.5" y="1173.0" font-size="28.6" text-anchor="end" font-weight="normal" textLength="91.5" lengthAdjust="spacingAndGlyphs" >-0.322</text><line x1="136.0" y1="1200.4" x2="139.0" y2="1200.4" stroke="#8a8a8a" stroke-width="1"/><text x="134.5" y="1211.3" font-size="28.6" text-anchor="end" font-weight="normal" textLength="91.5" lengthAdjust="spacingAndGlyphs" >-0.483</text><line x1="136.0" y1="1238.8" x2="139.0" y2="1238.8" stroke="#8a8a8a" stroke-width="1"/><text x="134.5" y="1249.7" font-size="28.6" text-anchor="end" font-weight="normal" textLength="91.5" lengthAdjust="spacingAndGlyphs" >-0.644</text><line x1="169.8" y1="1238.8" x2="169.8" y2="1241.8" stroke="#8a8a8a" stroke-width="1"/><text x="169.8" y="1265.2" font-size="28.6" text-anchor="middle" font-weight="normal" >0</text><line x1="273.0" y1="1238.8" x2="273.0" y2="1241.8" stroke="#8a8a8a" stroke-width="1"/><text x="273.0" y="1265.2" font-size="28.6" text-anchor="middle" font-weight="normal" >1</text><line x1="376.2" y1="1238.8" x2="376.2" y2="1241.8" stroke="#8a8a8a" stroke-width="1"/><text x="376.2" y="1265.2" font-size="28.6" text-anchor="middle" font-weight="normal" >2</text><line x1="479.4" y1="1238.8" x2="479.4" y2="1241.8" stroke="#8a8a8a" stroke-width="1"/><text x="479.4" y="1265.2" font-size="28.6" text-anchor="middle" font-weight="normal" >3</text><line x1="582.6" y1="1238.8" x2="582.6" y2="1241.8" stroke="#8a8a8a" stroke-width="1"/><text x="582.6" y="1265.2" font-size="28.6" text-anchor="middle" font-weight="normal" >4</text><line x1="685.8" y1="1238.8" x2="685.8" y2="1241.8" stroke="#8a8a8a" stroke-width="1"/><text x="685.8" y="1265.2" font-size="28.6" text-anchor="middle" font-weight="normal" >5</text><text x="366.2" y="1293.8" font-size="27" text-anchor="start" font-weight="normal" textLength="226" lengthAdjust="spacingAndGlyphs" >Time in seconds</text><text transform="translate(36.2,1086.5) rotate(-90)" font-size="28.6" text-anchor="middle" textLength="147.5" lengthAdjust="spacingAndGlyphs">Voltage(V)</text><text x="275.7" y="897.8" font-size="31.5" text-anchor="start" font-weight="normal" textLength="493" lengthAdjust="spacingAndGlyphs" stroke="#000" stroke-width="0.45">Vibration signal for detected footsteps</text><text x="36.6" y="903" font-size="35" text-anchor="start" font-weight="bold" stroke="#000" stroke-width="0.6">C</text><polyline points="169.6,1082.1 169.9,1082.7 170.3,1084.0 170.6,1083.8 171.0,1079.6 171.3,1078.0 171.7,1078.0 172.0,1078.6 172.4,1081.9 172.7,1083.4 173.1,1084.2 173.4,1086.1 173.8,1084.9 174.1,1087.0 174.5,1088.5 174.8,1091.1 175.2,1091.3 175.5,1090.9 175.9,1087.0 176.2,1087.4 176.6,1088.0 176.9,1089.1 177.3,1085.2 177.6,1083.0 178.0,1079.7 178.3,1080.4 178.7,1081.3 179.0,1082.7 179.4,1080.7 179.7,1080.9 180.1,1079.5 180.4,1081.2 180.8,1084.1 181.1,1085.0 181.5,1084.9 181.8,1084.4 182.2,1085.1 182.5,1086.0 182.9,1092.5 183.2,1092.3 183.6,1088.3 183.9,1089.8 184.3,1091.9 184.6,1089.6 185.0,1084.0 185.3,1082.7 185.7,1083.1 186.0,1083.8 186.4,1080.7 186.7,1078.1 187.1,1077.2 187.4,1080.5 187.8,1083.8 188.1,1081.3 188.5,1081.1 188.8,1084.4 189.2,1090.0 189.5,1088.6 189.9,1087.5 190.2,1086.5 190.6,1086.3 190.9,1090.8 191.3,1089.7 191.6,1088.1 192.0,1087.1 192.3,1082.3 192.7,1082.3 193.0,1082.3 193.4,1084.3 193.7,1080.2 194.1,1077.9 194.4,1079.4 194.8,1082.3 195.1,1084.6 195.5,1084.4 195.8,1084.1 196.2,1086.5 196.5,1089.9 196.9,1089.1 197.2,1090.6 197.6,1089.7 197.9,1088.1 198.3,1087.7 198.6,1089.9 199.0,1088.2 199.3,1084.8 199.7,1079.7 200.0,1078.6 200.4,1082.0 200.7,1080.0 201.1,1080.2 201.4,1077.8 201.8,1078.8 202.1,1081.2 202.5,1083.9 202.8,1086.6 203.2,1084.7 203.5,1084.6 203.9,1085.4 204.2,1089.8 204.6,1091.0 204.9,1088.8 205.3,1089.0 205.6,1088.4 206.0,1088.0 206.3,1087.9 206.7,1088.3 207.0,1085.0 207.4,1078.5 207.7,1077.8 208.1,1076.6 208.4,1078.5 208.8,1081.0 209.1,1078.7 209.5,1079.7 209.8,1079.2 210.2,1079.9 210.5,1087.4 210.9,1088.7 211.2,1089.0 211.6,1088.4 211.9,1093.1 212.3,1092.1 212.6,1090.2 213.0,1088.1 213.3,1085.3 213.7,1085.0 214.0,1083.2 214.4,1081.1 214.7,1077.6 215.1,1076.1 215.4,1077.4 215.8,1079.4 216.1,1079.7 216.5,1076.4 216.8,1078.3 217.2,1080.7 217.5,1083.5 217.9,1088.0 218.2,1086.9 218.6,1088.3 218.9,1089.0 219.3,1093.4 219.6,1091.7 220.0,1087.7 220.3,1087.0 220.7,1085.2 221.0,1086.6 221.4,1086.0 221.7,1081.7 222.1,1078.2 222.4,1077.6 222.8,1076.4 223.1,1078.3 223.5,1082.1 223.8,1082.3 224.2,1082.6 224.5,1082.3 224.9,1083.3 225.2,1089.3 225.6,1093.4 225.9,1094.0 226.3,1092.0 226.6,1088.8 227.0,1087.4 227.3,1088.2 227.7,1088.7 228.0,1088.2 228.4,1082.2 228.7,1081.4 229.1,1080.0 229.4,1081.2 229.8,1080.4 230.1,1076.1 230.5,1074.9 230.8,1075.2 231.2,1079.2 231.5,1082.1 231.9,1079.8 232.2,1083.2 232.6,1087.3 232.9,1091.1 233.3,1092.4 233.6,1091.5 234.0,1091.4 234.3,1090.6 234.7,1090.3 235.0,1089.8 235.4,1086.2 235.7,1082.4 236.1,1081.4 236.4,1083.7 236.8,1082.1 237.1,1080.1 237.5,1079.1 237.8,1079.9 238.2,1082.4 238.5,1084.0 238.9,1083.2 239.2,1083.1 239.6,1081.8 239.9,1084.8 240.3,1089.3 240.6,1089.4 241.0,1085.4 241.3,1085.6 241.7,1087.1 242.0,1087.7 242.4,1088.0 242.7,1084.1 243.1,1083.0 243.4,1082.1 243.8,1084.8 244.1,1082.9 244.5,1082.6 244.8,1078.7 245.2,1078.3 245.5,1080.6 245.9,1083.4 246.2,1082.7 246.6,1083.9 246.9,1082.9 247.3,1081.6 247.6,1084.0 248.0,1089.6 248.3,1089.4 248.7,1090.9 249.0,1087.3 249.4,1086.9 249.7,1090.4 250.1,1090.6 250.4,1087.7 250.8,1084.7 251.1,1083.3 251.5,1085.1 251.8,1083.5 252.2,1080.9 252.5,1078.1 252.9,1081.0 253.2,1082.5 253.6,1077.8 253.9,1077.1 254.3,1079.7 254.5,1084.0" fill="none" stroke="#1f77b4" stroke-width="2.3" stroke-linejoin="round" stroke-linecap="round"/><polyline points="254.5,1084.0 255.4,1058.6" fill="none" stroke="#1f77b4" stroke-width="2.0" stroke-linejoin="round" stroke-linecap="round"/><polyline points="255.4,1058.6 256.2,1104.2" fill="none" stroke="#1f77b4" stroke-width="1.35" stroke-linejoin="round" stroke-linecap="round"/><polyline points="256.2,1104.2 257.0,1080.0" fill="none" stroke="#1f77b4" stroke-width="2.0" stroke-linejoin="round" stroke-linecap="round"/><polyline points="257.0,1080.0 257.1,1092.8 257.4,1090.4 257.8,1087.5 258.1,1086.6 258.5,1084.9 258.8,1084.2 259.2,1084.4 259.5,1081.4 259.9,1080.7 260.2,1078.5 260.6,1081.1 260.9,1082.5 261.3,1082.2 261.6,1083.1 262.0,1080.1 262.3,1081.6 262.7,1086.2 263.0,1087.0 263.4,1086.3 263.7,1087.4 264.1,1088.9 264.4,1092.5 264.8,1092.5 265.1,1088.3 265.5,1084.2 265.8,1083.0 266.2,1082.8 266.5,1084.3 266.9,1081.3 267.2,1078.5 267.6,1078.1 267.9,1080.8 268.3,1081.5 268.6,1082.9 269.0,1082.0 269.3,1081.7 269.7,1085.6 270.0,1087.4 270.4,1090.2 270.6,1082.0" fill="none" stroke="#1f77b4" stroke-width="2.3" stroke-linejoin="round" stroke-linecap="round"/><polyline points="270.6,1082.0 271.4,1067.8 272.2,1086.0" fill="none" stroke="#1f77b4" stroke-width="2.0" stroke-linejoin="round" stroke-linecap="round"/><polyline points="272.2,1086.0 272.5,1087.2 272.8,1083.6 273.2,1083.4 273.5,1086.0 273.9,1086.7 274.2,1083.9 274.6,1079.6 274.9,1076.6 275.3,1079.1 275.6,1081.0 276.0,1084.9 276.3,1082.5 276.7,1083.3 277.0,1082.5 277.4,1082.1 277.8,1087.2 278.1,1090.5 278.5,1087.1 278.8,1084.7 279.2,1086.3 279.5,1088.7 279.9,1089.5 280.2,1088.3 280.6,1084.5 280.9,1083.0 281.3,1081.6 281.6,1085.2 282.0,1082.8 282.3,1080.5 282.7,1079.5 283.0,1077.5 283.4,1078.2 283.7,1082.0 284.1,1083.6 284.4,1084.7 284.8,1081.8 285.1,1083.7 285.5,1087.0 285.8,1088.9 286.2,1088.8 286.5,1087.6 286.9,1084.4 287.2,1086.5 287.6,1087.4 287.9,1088.5 288.3,1087.2 288.6,1084.3 289.0,1082.8 289.3,1084.8 289.7,1085.9 290.0,1083.6 290.4,1079.1 290.7,1078.4 291.1,1077.1 291.4,1078.7 291.8,1081.2 292.1,1082.6 292.5,1079.9 292.8,1082.6 293.2,1087.8 293.5,1088.7 293.9,1088.3 294.2,1086.1 294.6,1085.0 294.9,1087.4 295.3,1091.3 295.6,1090.6 296.0,1088.0 296.3,1086.1 296.7,1082.4 297.0,1084.0 297.4,1083.4 297.7,1084.8 298.1,1081.8 298.4,1080.5 298.8,1076.3 299.1,1077.5 299.5,1080.5 299.8,1083.9 300.2,1084.4 300.5,1083.8 300.9,1083.0 301.2,1084.5 301.6,1086.3 301.9,1089.9 302.3,1090.0 302.6,1089.2 303.0,1087.3 303.3,1085.1 303.7,1086.7 304.0,1089.6 304.4,1083.8 304.7,1080.2 305.1,1079.9 305.4,1079.0 305.8,1082.3 306.1,1080.5 306.5,1077.2 306.8,1074.6 307.2,1076.8 307.5,1082.6 307.9,1084.4 308.2,1084.6 308.6,1084.3 308.9,1085.3 309.3,1086.6 309.6,1092.9 310.0,1094.1 310.3,1089.2 310.7,1088.7 311.0,1087.5 311.4,1087.2 311.7,1088.5 312.1,1085.3 312.4,1080.5 312.8,1077.4 313.1,1077.2 313.5,1080.2 313.8,1082.4 314.2,1082.3 314.5,1080.9 314.9,1081.1 315.2,1085.5 315.6,1089.7 315.8,1080.0" fill="none" stroke="#1f77b4" stroke-width="2.3" stroke-linejoin="round" stroke-linecap="round"/><polyline points="315.8,1080.0 316.6,1068.5" fill="none" stroke="#1f77b4" stroke-width="2.0" stroke-linejoin="round" stroke-linecap="round"/><polyline points="316.6,1068.5 317.3,1103.5" fill="none" stroke="#1f77b4" stroke-width="1.35" stroke-linejoin="round" stroke-linecap="round"/><polyline points="317.3,1103.5 318.0,1082.0" fill="none" stroke="#1f77b4" stroke-width="2.0" stroke-linejoin="round" stroke-linecap="round"/><polyline points="318.0,1082.0 318.0,1086.8 318.4,1087.0 318.7,1088.7 319.1,1086.9 319.4,1083.1 319.8,1080.3 320.1,1077.7 320.5,1076.9 320.8,1077.3 321.2,1078.6 321.5,1081.0 321.9,1080.9 322.2,1078.8 322.6,1082.3 322.9,1085.1 323.3,1086.4 323.6,1089.2 324.0,1086.6 324.3,1087.7 324.7,1092.1 325.0,1095.0 325.4,1094.6 325.7,1093.1 326.1,1088.1 326.4,1086.9 326.8,1086.7 327.1,1086.5 327.5,1082.7 327.8,1077.9 328.2,1076.6 328.5,1080.1 328.9,1079.8 329.2,1078.2 329.6,1076.3 329.9,1080.6 330.3,1083.4 330.6,1083.3 331.0,1082.9 331.3,1082.9 331.4,1084.0" fill="none" stroke="#1f77b4" stroke-width="2.3" stroke-linejoin="round" stroke-linecap="round"/><polyline points="331.4,1084.0 332.2,1067.2" fill="none" stroke="#1f77b4" stroke-width="2.0" stroke-linejoin="round" stroke-linecap="round"/><polyline points="332.2,1067.2 333.0,1101.5" fill="none" stroke="#1f77b4" stroke-width="1.35" stroke-linejoin="round" stroke-linecap="round"/><polyline points="333.0,1101.5 333.8,1082.0 336.0,1088.0 338.4,1074.4 340.0,1090.0" fill="none" stroke="#1f77b4" stroke-width="2.0" stroke-linejoin="round" stroke-linecap="round"/><polyline points="340.0,1090.0 340.1,1086.2 340.4,1085.7 340.8,1088.1 341.1,1091.3 341.5,1088.7 341.8,1084.9 342.2,1081.8 342.5,1084.1 342.9,1086.4 343.2,1084.3 343.6,1081.6 343.9,1079.0 344.3,1080.9 344.6,1084.2 345.0,1082.2 345.3,1080.6 345.7,1079.1 346.0,1081.1 346.4,1085.6 346.7,1088.7 347.1,1087.7 347.4,1085.3 347.8,1085.2 348.1,1089.7 348.5,1089.2 348.8,1086.1 349.2,1084.9 349.5,1084.2 349.9,1084.7 350.2,1086.5 350.6,1082.2 350.9,1079.9 351.3,1078.0 351.6,1077.9" fill="none" stroke="#1f77b4" stroke-width="2.3" stroke-linejoin="round" stroke-linecap="round"/><polyline points="351.6,1077.9 352.0,1082.1 352.3,1084.2 352.7,1084.5 353.0,1081.5 353.4,1083.5 353.7,1088.2 354.1,1086.7 354.4,1086.0 354.8,1085.0 355.1,1085.8 355.5,1088.5 355.8,1087.7 356.2,1087.7 356.5,1085.2 356.9,1083.0 357.2,1081.8 357.6,1083.1 357.9,1083.4 358.3,1080.9 358.6,1080.5 359.0,1079.8 359.3,1079.1 359.7,1082.1 360.0,1084.7 360.4,1085.6 360.7,1084.6 361.1,1084.1 361.4,1084.7 361.8,1088.5 362.1,1090.8 362.5,1087.4 362.8,1087.9 363.2,1088.9 363.5,1091.1 363.9,1092.6 364.2,1091.1 364.6,1085.2 364.9,1083.3 365.3,1081.8 365.6,1083.8 366.0,1084.2 366.3,1078.3 366.7,1077.5 367.0,1077.6 367.4,1080.8 367.7,1081.4 368.1,1081.2 368.4,1079.4 368.8,1082.6 369.1,1085.5 369.5,1090.7 369.8,1090.9 370.2,1086.9 370.5,1086.1 370.9,1087.5 371.2,1091.4 371.6,1089.1 371.9,1086.9 372.3,1083.6 372.6,1083.6 373.0,1083.4 373.3,1082.0 373.7,1077.7 374.0,1075.8 374.4,1078.3 374.7,1082.4 375.1,1083.7 375.4,1082.7 375.8,1081.5 376.1,1080.7 376.5,1085.0 376.7,1091.6" fill="none" stroke="#008000" stroke-width="2.3" stroke-linejoin="round" stroke-linecap="round"/><polyline points="376.7,1091.6 378.4,1062.4 379.4,1116.4 380.5,1051.6 382.1,1115.3 384.8,1055.4 387.2,1099.1" fill="none" stroke="#008000" stroke-width="1.35" stroke-linejoin="round" stroke-linecap="round"/><polyline points="387.2,1099.1 388.6,1099.1" fill="none" stroke="#008000" stroke-width="2.0" stroke-linejoin="round" stroke-linecap="round"/><polyline points="388.6,1099.1 390.2,1068.3" fill="none" stroke="#008000" stroke-width="1.35" stroke-linejoin="round" stroke-linecap="round"/><polyline points="390.2,1068.3 391.6,1053.2" fill="none" stroke="#008000" stroke-width="2.0" stroke-linejoin="round" stroke-linecap="round"/><polyline points="391.6,1053.2 392.9,1118.6" fill="none" stroke="#008000" stroke-width="1.35" stroke-linejoin="round" stroke-linecap="round"/><polyline points="392.9,1118.6 394.0,1091.6 397.8,1076.4" fill="none" stroke="#008000" stroke-width="2.0" stroke-linejoin="round" stroke-linecap="round"/><polyline points="397.8,1076.4 397.8,1084.1 398.2,1087.2 398.5,1084.9 398.9,1086.6 399.2,1088.2 399.6,1090.6 399.9,1091.1 400.3,1091.5 400.6,1091.2 401.0,1086.1 401.3,1084.7 401.7,1085.9 402.0,1086.3 402.4,1084.5 402.7,1081.7 403.1,1079.3 403.4,1079.2 403.8,1082.1 404.1,1080.7 404.5,1078.7 404.8,1079.7 405.2,1083.0 405.5,1086.3 405.9,1084.6 406.2,1082.2 406.6,1083.6 406.9,1086.5 407.3,1087.4 407.6,1087.3 408.0,1086.0 408.3,1086.0 408.7,1086.7 409.0,1088.4 409.4,1085.0" fill="none" stroke="#008000" stroke-width="2.3" stroke-linejoin="round" stroke-linecap="round"/><polyline points="409.4,1085.0 409.7,1084.4 410.1,1083.0 410.4,1080.6 410.8,1083.3 411.1,1082.2 411.5,1079.6 411.8,1076.5 412.2,1078.4 412.5,1082.5 412.9,1086.0 413.2,1087.9 413.6,1086.3 413.9,1084.2 414.3,1086.5 414.6,1088.3 415.0,1091.6 415.3,1091.5 415.7,1087.6 416.0,1083.7 416.4,1084.1 416.7,1083.3 417.1,1082.9 417.4,1082.9 417.8,1079.1 418.1,1078.9 418.5,1079.3 418.8,1082.7 419.2,1082.4 419.5,1081.9" fill="none" stroke="#1f77b4" stroke-width="2.3" stroke-linejoin="round" stroke-linecap="round"/><polyline points="419.5,1081.9 419.9,1081.5 420.2,1083.5 420.6,1088.8 420.9,1090.0 421.3,1088.2 421.6,1084.7 422.0,1086.1 422.3,1088.6 422.7,1088.5 423.0,1089.9 423.4,1088.8 423.7,1085.9 424.1,1083.1 424.4,1082.6 424.8,1081.0 425.1,1084.4 425.5,1082.9 425.8,1082.3 426.2,1079.6 426.5,1079.8 426.9,1082.4 427.2,1083.1 427.6,1079.9 427.9,1079.1 428.3,1083.0 428.6,1088.3 429.0,1088.9 429.3,1090.3 429.7,1089.5 430.0,1086.3 430.4,1088.8 430.7,1090.7 431.1,1091.1 431.4,1090.8 431.8,1084.2 432.1,1082.6 432.5,1081.3 432.8,1083.8 433.2,1080.3 433.5,1077.4 433.9,1075.7 434.2,1075.3 434.6,1079.6 434.9,1083.2 435.3,1080.3 435.6,1080.1 436.0,1081.6 436.3,1087.9 436.6,1084.2" fill="none" stroke="#ff0000" stroke-width="2.3" stroke-linejoin="round" stroke-linecap="round"/><polyline points="436.6,1084.2 437.7,1029.6 438.7,1127.9 439.4,1038.5 440.9,1155.3 443.0,1032.3 445.5,1122.5 446.6,1091.8" fill="none" stroke="#ff0000" stroke-width="1.35" stroke-linejoin="round" stroke-linecap="round"/><polyline points="446.6,1091.8 448.0,1117.7" fill="none" stroke="#ff0000" stroke-width="2.0" stroke-linejoin="round" stroke-linecap="round"/><polyline points="448.0,1117.7 449.2,1004.3 450.4,1146.4 451.6,1043.9 453.7,1100.6" fill="none" stroke="#ff0000" stroke-width="1.35" stroke-linejoin="round" stroke-linecap="round"/><polyline points="453.7,1100.6 455.1,1085.6 455.7,1101.3" fill="none" stroke="#ff0000" stroke-width="2.0" stroke-linejoin="round" stroke-linecap="round"/><polyline points="455.7,1101.3 460.5,1072.0" fill="none" stroke="#ff0000" stroke-width="1.35" stroke-linejoin="round" stroke-linecap="round"/><polyline points="460.5,1072.0 465.7,1099.3" fill="none" stroke="#ff0000" stroke-width="2.0" stroke-linejoin="round" stroke-linecap="round"/><polyline points="465.7,1099.3 469.7,1070.6" fill="none" stroke="#ff0000" stroke-width="1.35" stroke-linejoin="round" stroke-linecap="round"/><polyline points="469.7,1070.6 473.5,1093.1 476.2,1077.4" fill="none" stroke="#ff0000" stroke-width="2.0" stroke-linejoin="round" stroke-linecap="round"/><polyline points="476.2,1077.4 480.3,1095.2 485.1,1075.4 489.5,1096.8 493.4,1069.2 495.8,1093.9 495.8,1093.9" fill="none" stroke="#008000" stroke-width="2.0" stroke-linejoin="round" stroke-linecap="round"/><polyline points="495.8,1093.9 498.1,952.8 498.9,1184.6 499.7,998.2 501.3,1169.8 504.0,984.4 505.6,1160.0 508.6,1040.6 511.1,999.2 512.5,1181.7 514.5,1074.1" fill="none" stroke="#008000" stroke-width="1.35" stroke-linejoin="round" stroke-linecap="round"/><polyline points="514.5,1074.1 516.5,1052.4 518.4,1042.6" fill="none" stroke="#008000" stroke-width="2.0" stroke-linejoin="round" stroke-linecap="round"/><polyline points="518.4,1042.6 518.4,1156.0 521.4,1105.7" fill="none" stroke="#008000" stroke-width="1.35" stroke-linejoin="round" stroke-linecap="round"/><polyline points="521.4,1105.7 525.7,1078.1 528.3,1093.9 532.2,1072.2" fill="none" stroke="#008000" stroke-width="2.0" stroke-linejoin="round" stroke-linecap="round"/><polyline points="532.2,1072.2 536.3,1097.6 540.8,1071.4" fill="none" stroke="#1f77b4" stroke-width="2.0" stroke-linejoin="round" stroke-linecap="round"/><polyline points="540.8,1071.4 544.0,1103.0 548.0,1072.3" fill="none" stroke="#1f77b4" stroke-width="1.35" stroke-linejoin="round" stroke-linecap="round"/><polyline points="548.0,1072.3 552.5,1099.4" fill="none" stroke="#1f77b4" stroke-width="2.0" stroke-linejoin="round" stroke-linecap="round"/><polyline points="552.5,1099.4 555.2,1053.4 557.0,1098.5 557.9,1056.1 559.7,1118.3 562.8,1050.2 565.1,1104.8 566.0,1072.3 568.2,1127.3 570.0,1051.3 571.4,1127.3 574.7,1065.1" fill="none" stroke="#1f77b4" stroke-width="1.35" stroke-linejoin="round" stroke-linecap="round"/><polyline points="574.7,1065.1 577.7,1087.7" fill="none" stroke="#1f77b4" stroke-width="2.0" stroke-linejoin="round" stroke-linecap="round"/><polyline points="577.7,1087.7 577.7,1087.4 578.1,1084.3 578.4,1080.9 578.8,1078.5 579.1,1077.2 579.5,1079.3 579.8,1079.6 580.2,1082.6 580.5,1081.8 580.9,1079.1 581.2,1079.0 581.6,1081.3 581.9,1084.3 582.3,1087.4 582.6,1086.1 583.0,1085.6 583.3,1085.4 583.7,1087.3 584.0,1092.1 584.4,1089.7 584.7,1086.6 585.1,1085.6 585.4,1087.6 585.8,1088.6 586.1,1084.0 586.5,1080.1 586.8,1077.1 587.2,1081.0 587.5,1083.1 587.9,1081.7 588.2,1079.9 588.6,1079.2 588.9,1080.0 589.3,1085.4 589.6,1088.3 590.0,1087.5 590.3,1086.1 590.7,1088.4 591.0,1093.4 591.4,1091.7 591.7,1088.1 592.1,1085.1 592.4,1084.9 592.8,1087.2 593.1,1084.0 593.5,1080.0 593.8,1078.0 594.2,1077.0 594.5,1076.5 594.9,1077.6 595.2,1081.7 595.6,1080.6 595.9,1080.2 596.3,1081.3 596.6,1083.1 597.0,1087.0 597.3,1085.3 597.7,1085.0 598.0,1086.8 598.4,1087.9 598.7,1089.6 599.1,1092.2 599.4,1088.3 599.8,1084.9 600.1,1084.1 600.5,1083.2 600.8,1083.7 601.2,1085.3 601.5,1079.4 601.9,1078.0 602.2,1079.6 602.6,1082.7 602.9,1082.9 603.3,1082.1 603.6,1080.6 604.0,1082.3 604.3,1084.0 604.7,1085.7 605.0,1085.1 605.4,1085.5 605.7,1089.8 606.1,1089.7 606.4,1092.9 606.8,1092.8 607.1,1090.6 607.5,1088.4 607.8,1086.9 608.2,1087.3 608.5,1087.2 608.9,1083.3 609.2,1080.8 609.6,1081.0 609.9,1083.5 610.3,1083.0 610.6,1082.7 611.0,1081.1 611.3,1081.4 611.7,1086.8 612.0,1086.1 612.4,1086.8 612.7,1085.4 613.1,1087.1 613.4,1089.4 613.8,1092.1 614.1,1090.0 614.5,1088.4 614.8,1085.6 615.2,1084.4 615.5,1086.9 615.9,1086.7 616.2,1084.0" fill="none" stroke="#1f77b4" stroke-width="2.3" stroke-linejoin="round" stroke-linecap="round"/><polyline points="616.2,1084.0 617.3,1054.3 619.1,1114.7 621.0,1078.0" fill="none" stroke="#1f77b4" stroke-width="1.35" stroke-linejoin="round" stroke-linecap="round"/><polyline points="621.0,1078.0 623.6,1058.8" fill="none" stroke="#1f77b4" stroke-width="2.0" stroke-linejoin="round" stroke-linecap="round"/><polyline points="623.6,1058.8 625.4,1105.7" fill="none" stroke="#1f77b4" stroke-width="1.35" stroke-linejoin="round" stroke-linecap="round"/><polyline points="625.4,1105.7 627.0,1090.0 628.1,1109.3" fill="none" stroke="#1f77b4" stroke-width="2.0" stroke-linejoin="round" stroke-linecap="round"/><polyline points="628.1,1109.3 629.0,1061.5 630.5,1090.0" fill="none" stroke="#1f77b4" stroke-width="1.35" stroke-linejoin="round" stroke-linecap="round"/><polyline points="630.5,1090.0 630.6,1083.8 630.9,1081.9 631.3,1079.7 631.6,1079.4 632.0,1075.4 632.3,1075.7 632.7,1078.8 633.0,1080.9 633.4,1082.6 633.7,1080.1 634.1,1082.2 634.4,1086.0 634.8,1089.0 635.1,1089.3 635.5,1091.0 635.8,1088.6 636.2,1090.1 636.5,1092.2 636.9,1091.3 637.2,1088.8 637.6,1086.6 637.9,1087.5 638.3,1087.4 638.6,1084.2 639.0,1078.0 639.3,1076.6 639.7,1076.3 640.0,1080.3 640.4,1081.4 640.7,1079.2 641.1,1079.6 641.4,1080.5 641.8,1085.8 642.1,1087.3 642.5,1088.1 642.8,1087.6 643.2,1089.2 643.5,1091.7 643.9,1093.7 644.2,1092.7 644.6,1088.0 644.9,1085.3 645.3,1085.8 645.6,1085.6 646.0,1084.5 646.3,1078.8 646.7,1076.2 647.0,1074.3 647.4,1075.5 647.7,1078.7 648.1,1079.0 648.4,1078.2 648.8,1081.4 649.1,1084.1 649.5,1086.2 649.8,1085.6 650.2,1085.6 650.5,1087.4 650.9,1090.4 651.2,1092.4 651.6,1088.4 651.9,1088.1 652.3,1086.4 652.6,1087.4 653.0,1087.3 653.3,1085.8 653.7,1079.7 654.0,1076.5 654.4,1076.6 654.7,1079.1 655.1,1080.3 655.4,1080.6 655.8,1078.7 656.1,1079.1 656.5,1085.9 656.8,1086.7 657.2,1090.4 657.5,1089.1 657.9,1088.6 658.2,1087.8 658.6,1087.2 658.9,1088.8 659.3,1086.4 659.6,1083.5 660.0,1082.9 660.3,1084.0 660.7,1085.3 661.0,1082.8 661.4,1080.3 661.7,1077.9 662.1,1076.6 662.4,1077.4 662.8,1080.8 663.1,1085.5 663.5,1084.5 663.8,1083.3 664.2,1083.2 664.5,1086.5 664.9,1090.6 665.2,1092.5 665.6,1089.4 665.9,1089.4 666.3,1088.8 666.6,1090.2 667.0,1086.1 667.3,1083.1 667.7,1080.3 668.0,1077.1 668.4,1078.6 668.7,1080.6 669.1,1077.8 669.4,1075.8 669.8,1079.5 670.1,1080.6 670.5,1085.6 670.8,1085.0 671.2,1084.8 671.5,1085.0 671.9,1088.2 672.2,1093.5 672.6,1092.4 672.9,1089.7 673.3,1086.9 673.6,1087.8 674.0,1090.3 674.3,1088.4 674.7,1087.8 675.0,1082.5 675.4,1080.6 675.7,1077.5 676.1,1078.7 676.4,1077.7 676.8,1078.5 677.1,1080.1 677.5,1078.4 677.8,1081.3 678.2,1086.3 678.5,1088.4 678.9,1087.8 679.2,1088.3 679.6,1089.5 679.9,1093.2 680.0,1086.0" fill="none" stroke="#1f77b4" stroke-width="2.3" stroke-linejoin="round" stroke-linecap="round"/><polyline points="680.0,1086.0 681.2,1069.7 684.0,1094.0 687.6,1067.9" fill="none" stroke="#1f77b4" stroke-width="2.0" stroke-linejoin="round" stroke-linecap="round"/><polyline points="687.6,1067.9 690.2,1110.2 695.2,1067.0 698.8,1101.2" fill="none" stroke="#1f77b4" stroke-width="1.35" stroke-linejoin="round" stroke-linecap="round"/><polyline points="698.8,1101.2 702.4,1073.3 706.0,1096.0 710.5,1071.5 714.1,1098.5 717.7,1074.2 721.0,1094.0" fill="none" stroke="#1f77b4" stroke-width="2.0" stroke-linejoin="round" stroke-linecap="round"/><polyline points="721.0,1094.0 721.2,1083.7 721.6,1081.3 721.9,1078.5 722.3,1080.0 722.6,1082.6 723.0,1082.7 723.3,1079.7 723.7,1080.0 724.0,1084.2 724.4,1088.2 724.7,1086.7 725.1,1085.8 725.4,1084.6 725.8,1084.2 726.1,1088.1 726.5,1089.3 726.8,1089.4 727.2,1088.7 727.5,1085.0 727.9,1082.1 728.2,1083.1 728.6,1084.9 728.9,1083.9 729.3,1082.0 729.6,1080.2 730.0,1083.7 730.3,1082.8 730.7,1080.2 731.0,1079.1 731.4,1081.4 731.7,1084.2 732.1,1086.4 732.4,1085.1 732.8,1086.3 733.1,1086.5 733.5,1088.2 733.8,1091.0 734.2,1089.4 734.5,1086.5 734.9,1085.6 735.2,1087.0 735.6,1087.6 735.9,1084.8 736.3,1082.1 736.6,1079.7 737.0,1081.6 737.3,1082.1 737.7,1082.0 738.0,1080.7 738.4,1079.4 738.7,1079.7 739.1,1083.2 739.4,1084.2 739.8,1085.1 740.1,1086.3 740.5,1086.4 740.8,1090.2 741.2,1090.3 741.5,1092.7 741.9,1091.0 742.2,1088.3 742.6,1086.0 742.9,1085.7 743.3,1087.1 743.6,1083.6 744.0,1081.0 744.3,1077.5 744.7,1081.2 745.0,1081.8 745.4,1081.2 745.7,1080.3 746.1,1078.0 746.4,1079.3 746.8,1086.2 747.1,1086.2 747.5,1086.5 747.8,1084.4 748.2,1088.8 748.5,1091.8 748.9,1091.4 749.2,1089.8 749.6,1085.5 749.9,1085.1 750.3,1086.2 750.6,1087.1 751.0,1085.2 751.3,1081.4 751.7,1080.4 752.0,1077.6 752.4,1080.0 752.7,1080.1 753.1,1078.5 753.4,1079.1 753.8,1077.9 754.1,1081.0 754.5,1083.5 754.8,1084.9 755.2,1085.9 755.5,1083.4 755.9,1087.6 756.2,1090.7 756.6,1089.3 756.9,1087.2 757.3,1086.6 757.6,1087.1 758.0,1089.6 758.3,1089.4 758.7,1083.0 759.0,1079.3 759.4,1081.4 759.7,1080.4 760.1,1078.5 760.4,1074.7 760.8,1075.2 761.1,1079.7 761.5,1082.2 761.8,1083.5 762.2,1081.3 762.5,1084.9 762.9,1087.0 763.2,1090.5 763.6,1092.3 763.9,1088.9 764.3,1088.8 764.6,1090.8 765.0,1091.2 765.3,1088.4 765.7,1087.9 766.0,1081.3 766.4,1078.4 766.7,1078.0 767.1,1078.0 767.4,1079.8 767.8,1079.9 768.1,1076.4 768.5,1077.3 768.8,1081.6 769.2,1087.0 769.5,1084.4 769.9,1085.2 770.2,1088.5 770.6,1092.5 770.9,1093.4 771.3,1091.3 771.6,1088.0 772.0,1088.8 772.3,1090.4 772.7,1088.1 773.0,1085.3 773.4,1080.9 773.7,1078.6 774.1,1078.2 774.4,1078.1 774.8,1078.2 775.1,1079.4 775.5,1078.1 775.8,1076.8 776.2,1079.8 776.5,1083.4 776.9,1086.0 777.2,1086.1 777.6,1085.7 777.9,1088.2 778.3,1091.5 778.6,1094.7 779.0,1092.6 779.3,1090.3 779.7,1087.1 780.0,1084.0 780.4,1085.1 780.7,1085.3 781.1,1083.4 781.4,1077.8 781.8,1078.1 782.1,1080.1 782.5,1078.8 782.8,1080.8 783.2,1079.4 783.5,1079.0 783.9,1083.3 784.2,1085.6 784.6,1087.5 784.9,1089.5 785.3,1086.8 785.6,1088.5 786.0,1091.4 786.3,1093.9 786.7,1092.7 787.0,1088.0 787.4,1086.7 787.7,1085.9 788.1,1085.7 788.4,1084.6 788.8,1082.1" fill="none" stroke="#1f77b4" stroke-width="2.3" stroke-linejoin="round" stroke-linecap="round"/></svg></body></html>
